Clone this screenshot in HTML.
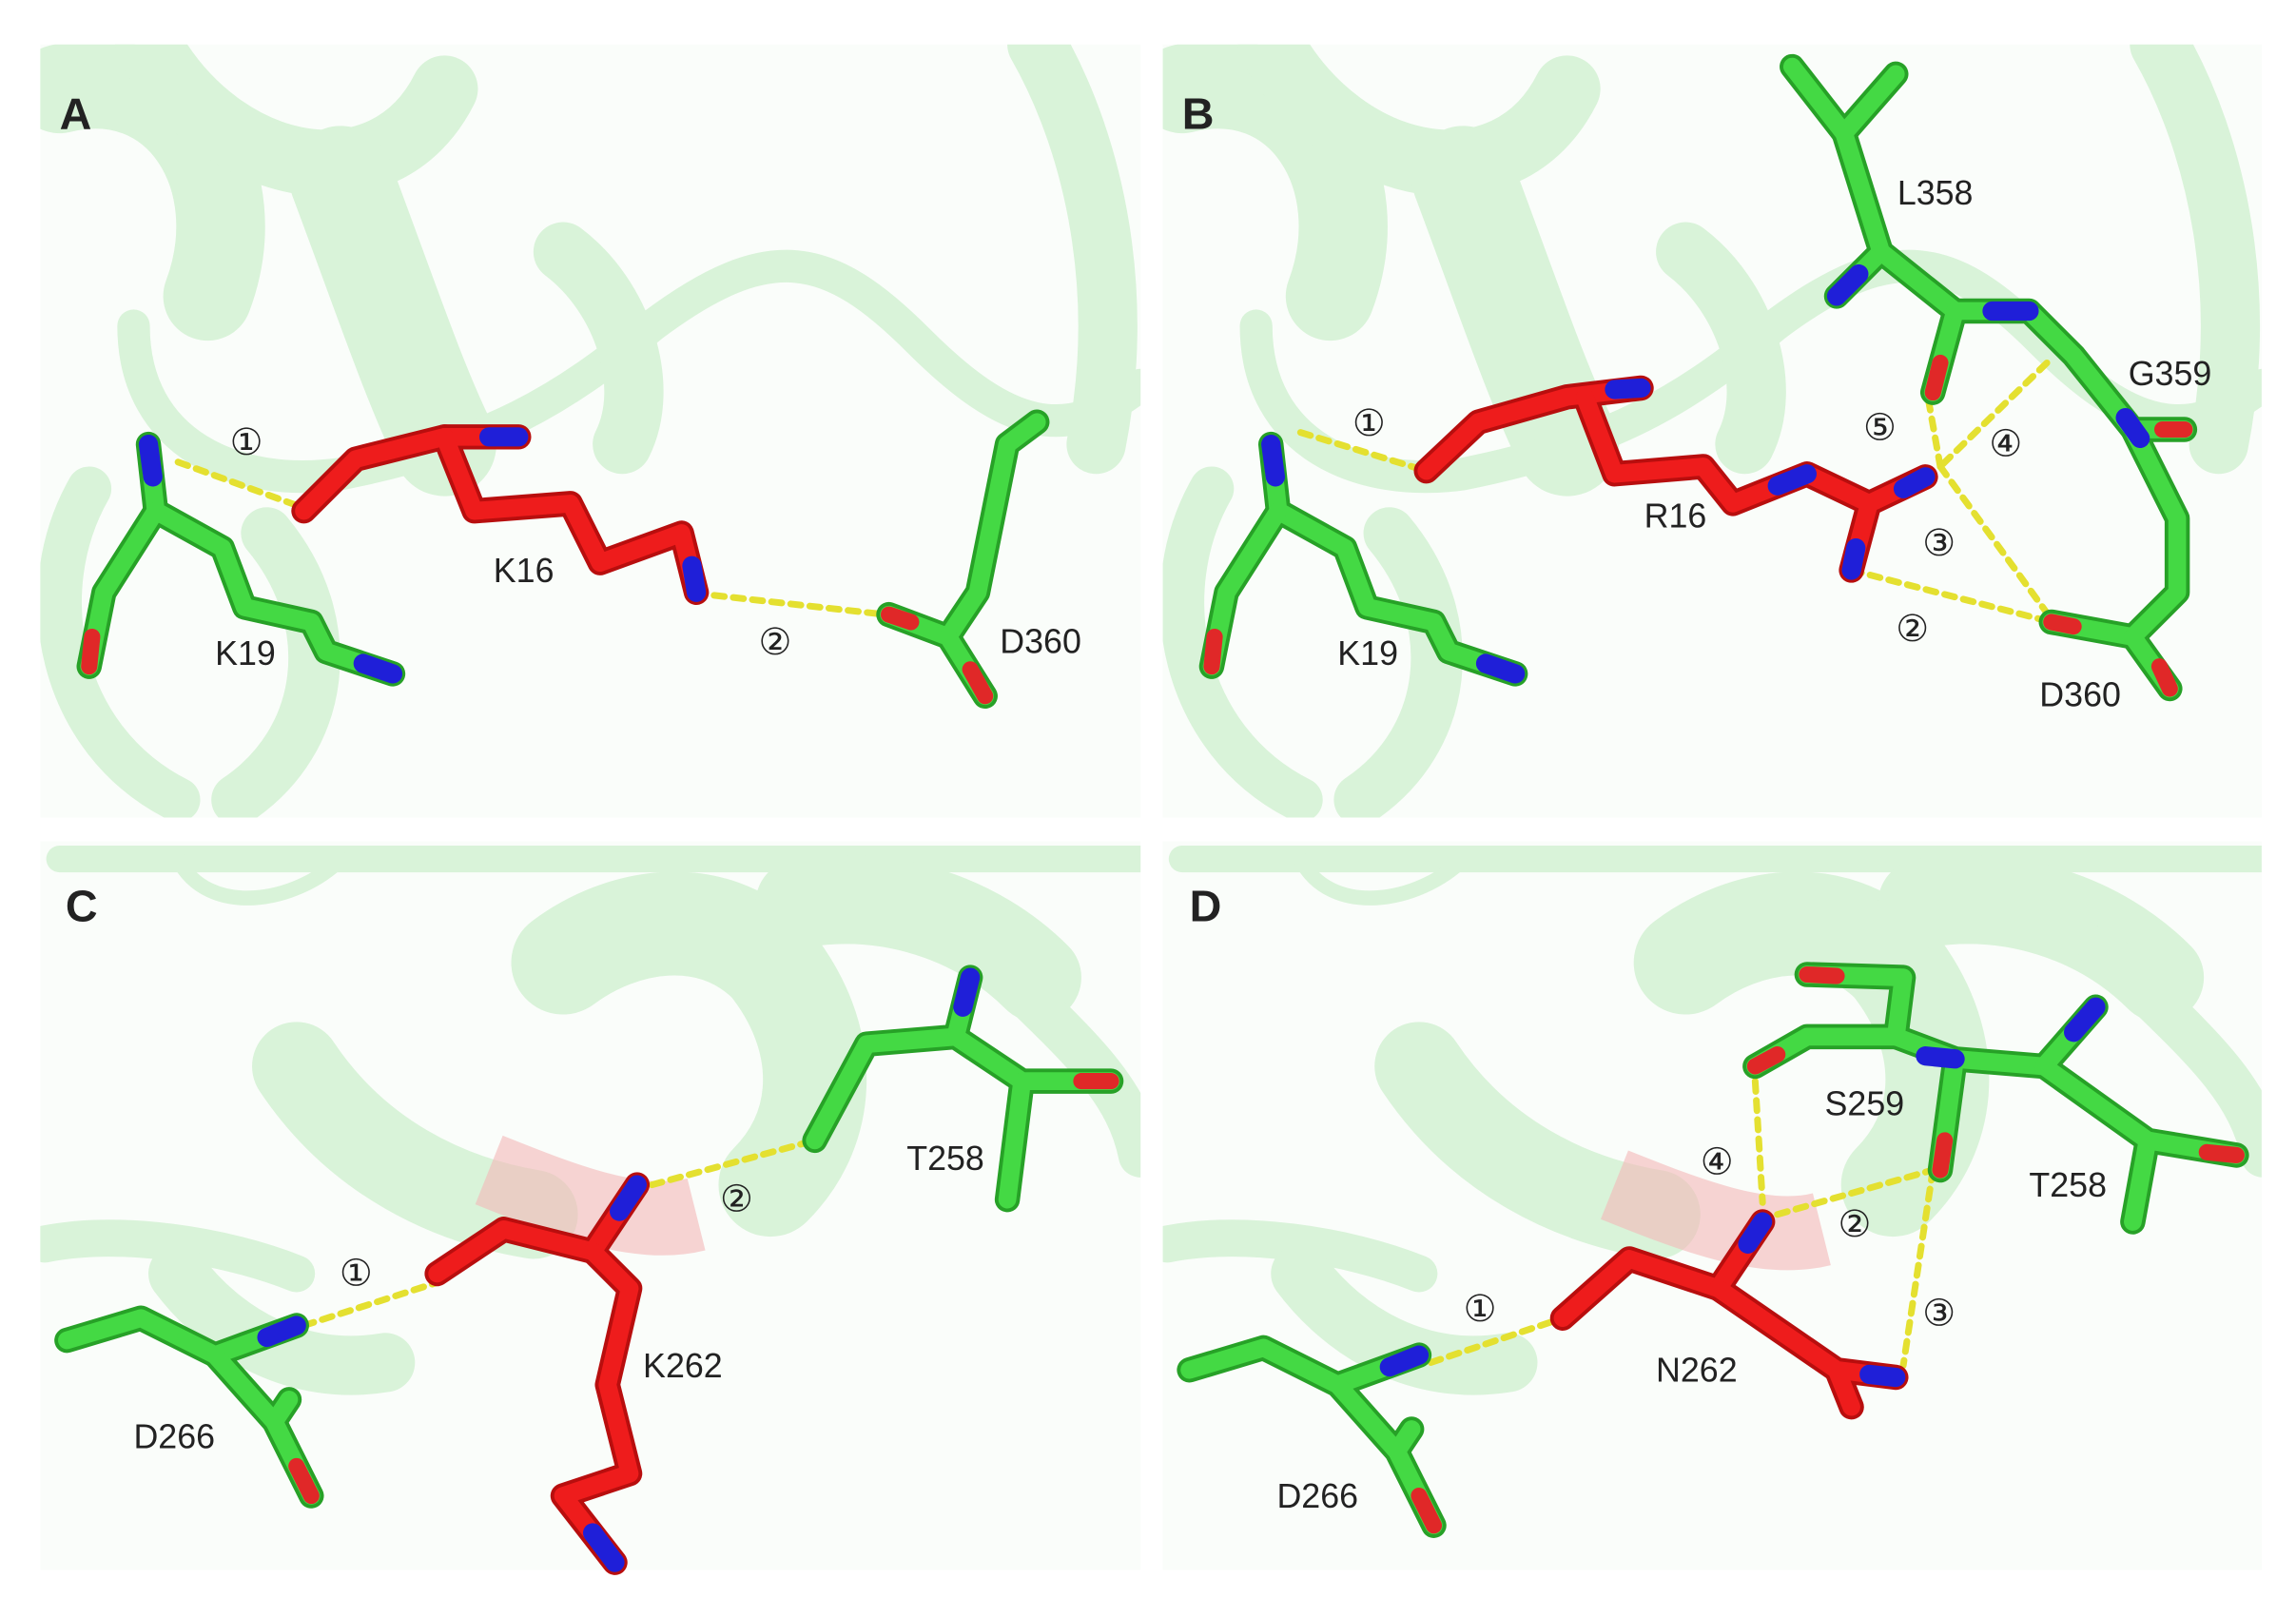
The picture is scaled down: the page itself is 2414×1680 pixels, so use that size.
<!DOCTYPE html>
<html><head><style>html,body{margin:0;padding:0;background:#fff}svg{display:block}</style></head><body>
<svg width="2414" height="1680" viewBox="0 0 1550 1079" xmlns="http://www.w3.org/2000/svg">
<defs>
<clipPath id="cA"><rect x="27" y="30" width="743" height="522"/></clipPath>
<clipPath id="cB"><rect x="785" y="30" width="742" height="522"/></clipPath>
<clipPath id="cC"><rect x="27" y="568" width="743" height="492"/></clipPath>
<clipPath id="cD"><rect x="785" y="568" width="742" height="492"/></clipPath>
<g id="ribTop" fill="none" stroke="#d9f3d9" stroke-linecap="round">
<path d="M40 60 C120 40 170 120 140 200" stroke-width="60"/>
<path d="M100 30 C150 120 260 140 300 60" stroke-width="45"/>
<path d="M230 120 C260 200 280 260 300 300" stroke-width="70"/>
<path d="M90 220 C90 300 160 330 230 320 C330 300 380 270 440 220 C520 160 560 170 620 230 C680 290 720 300 770 260" stroke-width="22"/>
<path d="M700 30 C740 100 760 200 740 300" stroke-width="40"/>
<path d="M60 330 C20 400 40 500 120 540" stroke-width="30"/>
<path d="M180 360 C230 420 220 500 160 540" stroke-width="35"/>
<path d="M380 170 C420 200 440 260 420 300" stroke-width="40"/>
</g>
<g id="ribBot" fill="none" stroke="#d9f3d9" stroke-linecap="round">
<path d="M40 580 L770 580" stroke-width="18"/>
<path d="M120 580 C140 620 200 610 230 580" stroke-width="10"/>
<path d="M200 720 C240 780 300 810 360 820" stroke-width="60"/>
<path d="M380 650 C420 620 480 610 520 650 C560 700 560 760 520 800" stroke-width="70"/>
<path d="M540 610 C600 600 660 620 700 660" stroke-width="60"/>
<path d="M30 840 C80 830 150 840 200 860" stroke-width="25"/>
<path d="M120 860 C150 900 200 930 260 920" stroke-width="40"/>
<path d="M660 640 C720 700 760 730 770 780" stroke-width="30"/>
</g>
</defs>
<rect width="1550" height="1079" fill="#fff"/>
<rect x="27" y="30" width="743" height="522" fill="#fafdfa"/>
<rect x="785" y="30" width="742" height="522" fill="#fafdfa"/>
<rect x="27" y="568" width="743" height="492" fill="#fafdfa"/>
<rect x="785" y="568" width="742" height="492" fill="#fafdfa"/>
<g clip-path="url(#cA)"><use href="#ribTop"/></g>
<g clip-path="url(#cB)"><use href="#ribTop" transform="translate(758 0)"/></g>
<g clip-path="url(#cC)"><use href="#ribBot"/><path d="M330 790 C380 810 430 830 470 820" stroke="#f4b8b8" stroke-width="50" fill="none" opacity="0.6"/></g>
<g clip-path="url(#cD)"><use href="#ribBot" transform="translate(758 0)"/><path d="M1090 800 C1140 820 1190 840 1230 830" stroke="#f4b8b8" stroke-width="50" fill="none" opacity="0.6"/></g>

<g fill="none" stroke-linecap="round" stroke-linejoin="round">
<g stroke="#e4e030" stroke-width="4.5" stroke-dasharray="7 6">
<line x1="120" y1="312" x2="205" y2="343"/><line x1="482" y1="402" x2="598" y2="415"/>
<line x1="878" y1="292" x2="963" y2="318"/>
<line x1="1302" y1="270" x2="1310" y2="315"/><line x1="1382" y1="245" x2="1310" y2="315"/>
<line x1="1310" y1="315" x2="1385" y2="418"/><line x1="1250" y1="385" x2="1385" y2="420"/>
<line x1="205" y1="895" x2="298" y2="865"/><line x1="440" y1="800" x2="550" y2="770"/>
<line x1="1185" y1="730" x2="1190" y2="812"/><line x1="1200" y1="820" x2="1305" y2="790"/>
<line x1="1305" y1="790" x2="1285" y2="922"/><line x1="966" y1="920" x2="1055" y2="890"/>
</g>
<g id="G">
<polyline points="100,300 105,345 150,370 165,410 210,420 220,440 265,455"/>
<polyline points="105,345 70,400 60,450"/>
<polyline points="700,285 680,300 670,350 660,400 640,430 600,415"/><polyline points="640,430 665,470"/>
<polyline points="858,300 863,345 908,370 923,410 968,420 978,440 1023,455"/><polyline points="863,345 828,400 818,450"/>
<polyline points="1210,45 1245,90 1280,50"/><polyline points="1245,90 1270,170 1240,200"/>
<polyline points="1270,170 1320,210 1305,265"/><polyline points="1320,210 1370,210 1400,240 1440,290 1475,290"/>
<polyline points="1440,290 1470,350 1470,400 1440,430 1385,420"/><polyline points="1440,430 1465,465"/>
<polyline points="45,905 95,890 145,915 200,895"/><polyline points="145,915 185,960 210,1010"/><polyline points="185,960 195,945"/>
<polyline points="550,770 585,705 645,700 655,660"/><polyline points="645,700 690,730 750,730"/><polyline points="690,730 680,810"/>
<polyline points="803,925 853,910 903,935 958,915"/><polyline points="903,935 943,980 968,1030"/><polyline points="943,980 953,965"/>
<polyline points="1220,658 1285,660 1280,700 1320,715 1380,720"/><polyline points="1320,715 1310,790"/>
<polyline points="1380,720 1415,680"/><polyline points="1380,720 1450,770 1510,780"/><polyline points="1450,770 1440,825"/>
<polyline points="1280,700 1220,700 1185,720"/>
</g>
</g>
<g fill="none" stroke-linecap="round" stroke-linejoin="round">
<use href="#G" stroke="#27a127" stroke-width="17"/>
<use href="#G" stroke="#44d944" stroke-width="12"/>
<g id="R">
<polyline points="205,345 240,310 300,295 350,295"/><polyline points="300,295 320,345 385,340 405,380 460,360 470,400"/>
<polyline points="963,318 998,285 1058,268 1108,262"/><polyline points="1070,268 1090,320 1150,315 1170,340 1220,320 1262,340 1300,322"/><polyline points="1262,340 1250,385"/>
<polyline points="295,860 340,830 400,845 430,800"/><polyline points="400,845 425,870 410,935 425,995 380,1010 415,1055"/>
<polyline points="1055,890 1100,850 1160,870 1190,825"/><polyline points="1160,870 1240,925 1280,930"/><polyline points="1240,925 1250,950"/>
</g>
</g>
<g fill="none" stroke-linecap="round" stroke-linejoin="round">
<use href="#R" stroke="#b80e0e" stroke-width="17"/>
<use href="#R" stroke="#ee1c1c" stroke-width="12"/>
<g stroke="#1f1fd8" stroke-width="13">
<line x1="100" y1="300" x2="103" y2="322"/><line x1="245" y1="448" x2="265" y2="455"/>
<line x1="330" y1="295" x2="350" y2="295"/><line x1="467" y1="382" x2="470" y2="400"/>
<line x1="858" y1="300" x2="861" y2="322"/><line x1="1003" y1="448" x2="1023" y2="455"/>
<line x1="1090" y1="263" x2="1108" y2="262"/><line x1="1240" y1="200" x2="1255" y2="185"/>
<line x1="1345" y1="210" x2="1370" y2="210"/><line x1="1435" y1="282" x2="1445" y2="296"/>
<line x1="1200" y1="328" x2="1220" y2="320"/><line x1="1285" y1="330" x2="1300" y2="322"/><line x1="1253" y1="370" x2="1250" y2="385"/>
<line x1="180" y1="903" x2="200" y2="895"/><line x1="418" y1="818" x2="430" y2="800"/><line x1="400" y1="1035" x2="415" y2="1055"/>
<line x1="650" y1="680" x2="655" y2="660"/>
<line x1="938" y1="923" x2="958" y2="915"/><line x1="1180" y1="840" x2="1190" y2="825"/><line x1="1262" y1="928" x2="1280" y2="930"/>
<line x1="1300" y1="713" x2="1320" y2="715"/><line x1="1400" y1="697" x2="1415" y2="680"/>
</g>
<g stroke="#e02828" stroke-width="11">
<line x1="62" y1="430" x2="60" y2="450"/><line x1="615" y1="420" x2="600" y2="415"/><line x1="655" y1="452" x2="665" y2="470"/>
<line x1="820" y1="430" x2="818" y2="450"/><line x1="1310" y1="245" x2="1305" y2="265"/><line x1="1460" y1="290" x2="1475" y2="290"/>
<line x1="1400" y1="423" x2="1385" y2="420"/><line x1="1458" y1="450" x2="1465" y2="465"/>
<line x1="200" y1="990" x2="210" y2="1010"/><line x1="730" y1="730" x2="750" y2="730"/>
<line x1="958" y1="1010" x2="968" y2="1030"/><line x1="1490" y1="778" x2="1510" y2="780"/><line x1="1313" y1="770" x2="1310" y2="790"/>
<line x1="1200" y1="712" x2="1185" y2="720"/><line x1="1220" y1="658" x2="1240" y2="659"/>
</g>
</g>
<g font-family="Liberation Sans, DejaVu Sans, sans-serif" font-size="23" fill="#222">
<text x="40" y="87" font-size="30" font-weight="bold">A</text>
<text x="798" y="87" font-size="30" font-weight="bold">B</text>
<text x="44" y="622" font-size="30" font-weight="bold">C</text>
<text x="803" y="622" font-size="30" font-weight="bold">D</text>
<g font-family="DejaVu Sans, sans-serif" font-size="25">
<text x="155" y="307">①</text><text x="512" y="442">②</text>
<text x="913" y="294">①</text><text x="1258" y="297">⑤</text><text x="1343" y="308">④</text><text x="1298" y="375">③</text><text x="1280" y="433">②</text>
<text x="229" y="868">①</text><text x="486" y="818">②</text>
<text x="1148" y="793">④</text><text x="1241" y="835">②</text><text x="1298" y="895">③</text><text x="988" y="892">①</text>
</g>
<text x="333" y="393">K16</text><text x="145" y="449">K19</text><text x="675" y="441">D360</text>
<text x="1281" y="138">L358</text><text x="1437" y="260">G359</text><text x="1110" y="356">R16</text><text x="903" y="449">K19</text><text x="1377" y="477">D360</text>
<text x="434" y="930">K262</text><text x="612" y="790">T258</text><text x="90" y="978">D266</text>
<text x="1232" y="753">S259</text><text x="1370" y="808">T258</text><text x="1118" y="933">N262</text><text x="862" y="1018">D266</text>
</g>
</svg>
</body></html>
